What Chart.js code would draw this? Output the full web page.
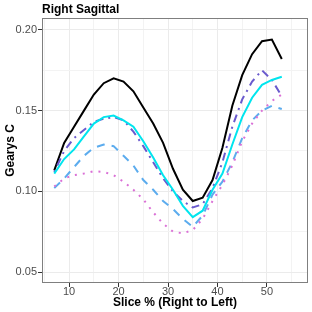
<!DOCTYPE html>
<html>
<head>
<meta charset="utf-8">
<script src="https://cdn.jsdelivr.net/npm/chart.js@4.4.1/dist/chart.umd.min.js"></script>
<style>
html,body{margin:0;padding:0;background:#fff;}
#wrap{width:312px;height:312px;}
</style>
</head>
<body>
<div id="wrap"><canvas id="c" width="312" height="312"></canvas></div>
<script>
const slices = [7,9,11,13,15,17,19,21,23,25,27,29,31,33,35,37,39,41,43,45,47,49,51,53];
const blackVals  = [0.113,0.130,0.140,0.150,0.160,0.167,0.170,0.168,0.162,0.152,0.142,0.130,0.114,0.101,0.094,0.096,0.107,0.127,0.153,0.172,0.185,0.193,0.194,0.182];
const purpleVals = [0.112,0.125,0.133,0.138,0.143,0.145,0.146,0.144,0.137,0.128,0.118,0.108,0.100,0.094,0.090,0.092,0.102,0.118,0.140,0.157,0.168,0.175,0.169,0.159];
const cyanVals   = [0.111,0.120,0.126,0.134,0.142,0.146,0.147,0.144,0.140,0.131,0.121,0.110,0.101,0.091,0.084,0.088,0.101,0.111,0.129,0.146,0.158,0.166,0.169,0.171];
const blueVals   = [0.102,0.108,0.115,0.122,0.127,0.129,0.128,0.122,0.116,0.107,0.101,0.094,0.089,0.083,0.078,0.085,0.098,0.106,0.118,0.133,0.144,0.150,0.153,0.151];
const pinkVals   = [0.103,0.108,0.110,0.111,0.1125,0.112,0.110,0.106,0.101,0.095,0.087,0.080,0.075,0.074,0.076,0.083,0.094,0.104,0.116,0.131,0.142,0.150,0.156,0.160];
const xTicks = [5,10,15,20,25,30,35,40,45,50,55];
const yTicks = [0.05,0.075,0.10,0.125,0.15,0.175,0.20];

const FONT = "'Liberation Sans', Arial, sans-serif";
function pts(vals){ return slices.map((s,i)=>({x:s,y:vals[i]})); }
function ds(vals,color,dash){
  return {data:pts(vals),borderColor:color,borderWidth:2,borderDash:dash,borderCapStyle:'butt',
          pointRadius:0,tension:0,fill:false};
}
const isMajX = v => Math.abs(v/10-Math.round(v/10))<1e-6;
const isMajY = v => Math.abs(v/0.05-Math.round(v/0.05))<1e-6;

const deco = {
  id:'deco',
  afterDatasetsDraw(chart){
    const {ctx,chartArea:a} = chart;
    ctx.save();
    ctx.strokeStyle='#7f7f7f'; ctx.lineWidth=1;
    ctx.strokeRect(a.left+0.5,a.top+0.5,a.right-a.left-1,a.bottom-a.top-1);
    ctx.restore();
  },
  afterDraw(chart){
    const {ctx,chartArea:a} = chart;
    ctx.save();
    ctx.fillStyle='#000';
    ctx.font='bold 12px '+FONT;
    ctx.textAlign='left'; ctx.textBaseline='alphabetic';
    ctx.fillText('Right Sagittal',42,13);
    ctx.textAlign='center';
    ctx.fillText('Slice % (Right to Left)',(a.left+a.right)/2,306);
    ctx.translate(13.5,(a.top+a.bottom)/2);
    ctx.rotate(-Math.PI/2);
    ctx.fillText('Gearys C',0,0);
    ctx.restore();
  }
};

new Chart(document.getElementById('c'),{
  type:'line',
  data:{datasets:[
    ds(pinkVals,'#DA70D6',[2,6]),
    ds(blueVals,'#5CACEE',[8,7]),
    ds(cyanVals,'#00E5EE',[]),
    ds(purpleVals,'#6A5ACD',[2,5,8,5]),
    ds(blackVals,'#000000',[])
  ]},
  options:{
    responsive:false,animation:false,
    layout:{padding:{top:18,right:4,left:0,bottom:0}},
    plugins:{legend:{display:false},tooltip:{enabled:false},title:{display:false}},
    scales:{
      x:{type:'linear',min:4.52,max:58.3,
         afterBuildTicks:s=>{s.ticks=xTicks.map(v=>({value:v}));},
         afterFit:s=>{s.height=29;},
         border:{display:false},
         grid:{color:c=>isMajX(c.tick.value)?'#EBEBEB':'#F3F3F3',lineWidth:1,
               tickColor:c=>isMajX(c.tick.value)?'#333333':'rgba(0,0,0,0)',tickLength:4},
         ticks:{autoSkip:false,maxRotation:0,padding:-2,color:'#4D4D4D',font:{family:FONT,size:11},
                callback:v=>isMajX(v)?String(v):''}},
      y:{type:'linear',min:0.0432,max:0.2074,
         afterBuildTicks:s=>{s.ticks=yTicks.map(v=>({value:v}));},
         afterFit:s=>{s.width=42;},
         border:{display:false},
         grid:{color:c=>isMajY(c.tick.value)?'#EBEBEB':'#F3F3F3',lineWidth:1,
               tickColor:c=>isMajY(c.tick.value)?'#333333':'rgba(0,0,0,0)',tickLength:4},
         ticks:{autoSkip:false,padding:1,color:'#4D4D4D',font:{family:FONT,size:11},
                callback:v=>isMajY(v)?v.toFixed(2):''}}
    }
  },
  plugins:[deco]
});
</script>
</body>
</html>
